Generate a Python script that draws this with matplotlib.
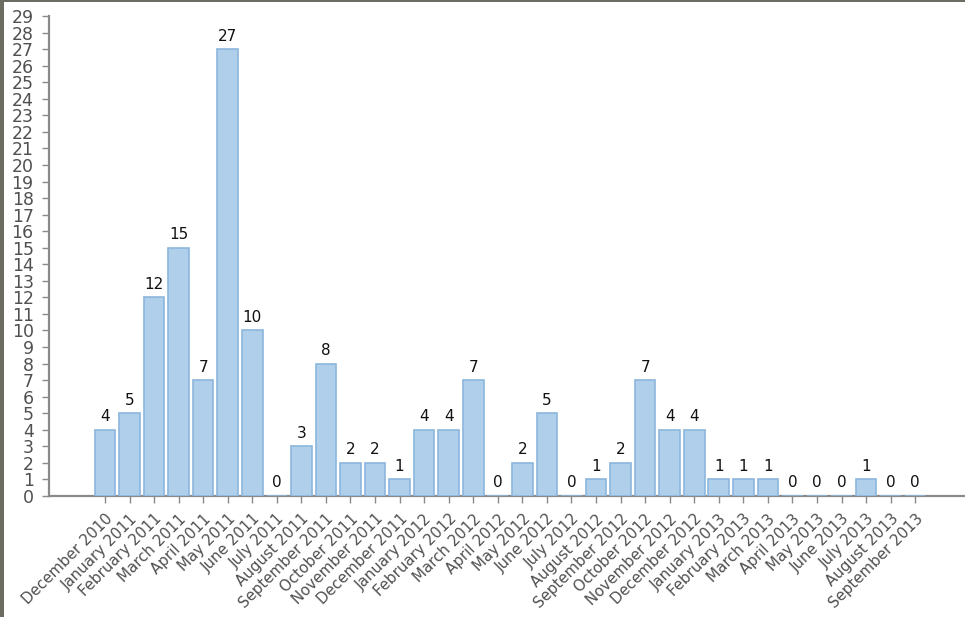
import matplotlib
matplotlib.use("Agg")
import matplotlib.pyplot as plt
from matplotlib.patches import Rectangle

# monthly counts, Dec 2010 .. Sep 2013
MONTHS = [
    "December 2010", "January 2011", "February 2011", "March 2011", "April 2011",
    "May 2011", "June 2011", "July 2011", "August 2011", "September 2011",
    "October 2011", "November 2011", "December 2011", "January 2012", "February 2012",
    "March 2012", "April 2012", "May 2012", "June 2012", "July 2012",
    "August 2012", "September 2012", "October 2012", "November 2012", "December 2012",
    "January 2013", "February 2013", "March 2013", "April 2013", "May 2013",
    "June 2013", "July 2013", "August 2013", "September 2013",
]
COUNTS = [4, 5, 12, 15, 7, 27, 10, 0, 3, 8, 2, 2, 1, 4, 4, 7, 0, 2, 5, 0,
          1, 2, 7, 4, 4, 1, 1, 1, 0, 0, 0, 1, 0, 0]
Y_TICKS = list(range(0, 30))

BAR_FILL = "#b0cfeb"
BAR_EDGE = "#8db6dd"
AXIS_GREY = "#8a8a8a"
TEXT_GREY = "#505050"

fig = plt.figure(figsize=(9.65, 6.17), dpi=100)
ax = fig.add_axes([49 / 965, 121 / 617, 916 / 965, 480 / 617])

x = list(range(len(COUNTS)))
# zorder above the spines so empty months still show their edge line
ax.bar(x, COUNTS, width=0.84, color=BAR_FILL, edgecolor=BAR_EDGE,
       linewidth=1.2, zorder=3)

for xi, v in zip(x, COUNTS):
    ax.annotate(str(v), (xi, v), xytext=(0, 4), textcoords="offset points",
                ha="center", va="bottom", fontsize=11, color="#111111")

ax.set_xlim(-2.28, 35.03)
ax.set_ylim(0, 29)
ax.set_yticks(Y_TICKS)
ax.set_yticklabels([str(t) for t in Y_TICKS], fontsize=12.5, color=TEXT_GREY)
ax.set_xticks(x)
ax.set_xticklabels(MONTHS, rotation=45, ha="right", va="top",
                   rotation_mode="anchor", fontsize=10.8, color=TEXT_GREY)

for side in ("top", "right"):
    ax.spines[side].set_visible(False)
for side in ("left", "bottom"):
    ax.spines[side].set_color(AXIS_GREY)
    ax.spines[side].set_linewidth(1.6)
ax.tick_params(axis="y", length=5, width=1, color=AXIS_GREY, pad=6)
ax.tick_params(axis="x", length=5, width=1, color=AXIS_GREY, pad=6)

# window frame: dark strip on the left and top edges
fig.patches.append(Rectangle((0, 0), 4 / 965, 1, transform=fig.transFigure,
                             facecolor="#6c6c62", edgecolor="none", zorder=10))
fig.patches.append(Rectangle((0, 1 - 2 / 617), 1, 2 / 617, transform=fig.transFigure,
                             facecolor="#6c6c62", edgecolor="none", zorder=10))

fig.savefig("out.png", dpi=100)
